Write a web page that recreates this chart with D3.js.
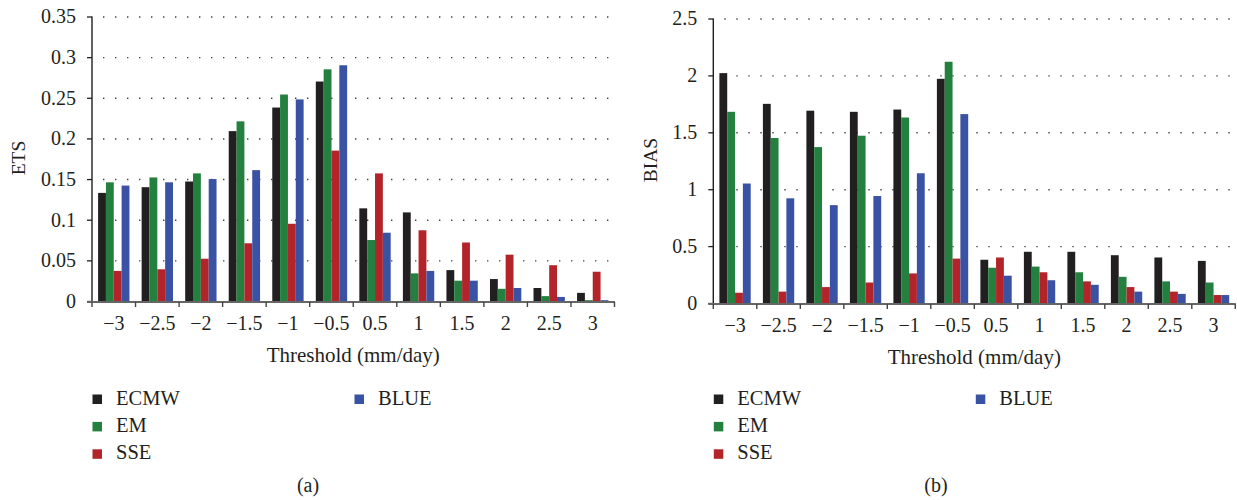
<!DOCTYPE html>
<html>
<head>
<meta charset="utf-8">
<script src="https://cdn.jsdelivr.net/npm/d3@7"></script>
<style>
  html, body { margin: 0; padding: 0; background: #fff; }
  svg { display: block; }
  text { font-family: "Liberation Serif", "DejaVu Serif", serif; fill: #231f20; }
</style>
</head>
<body>
<svg id="chart" width="1237" height="500"></svg>
<script>
// Precipitation thresholds (mm/day)
const thresholds = ["−3", "−2.5", "−2", "−1.5", "−1", "−0.5", "0.5", "1", "1.5", "2", "2.5", "3"];
const seriesNames = ["ECMW", "EM", "SSE", "BLUE"];
const seriesColors = ["#221f20", "#23803e", "#b3242a", "#3a52a3"];

// Equitable threat score per threshold
const etsECMW = [0.133, 0.140, 0.147, 0.209, 0.238, 0.270, 0.114, 0.109, 0.038, 0.027, 0.016, 0.010];
const etsEM   = [0.146, 0.152, 0.157, 0.221, 0.254, 0.285, 0.075, 0.034, 0.025, 0.015, 0.006, 0.001];
const etsSSE  = [0.037, 0.039, 0.052, 0.071, 0.095, 0.185, 0.157, 0.087, 0.072, 0.057, 0.044, 0.036];
const etsBLUE = [0.142, 0.146, 0.150, 0.161, 0.248, 0.290, 0.084, 0.037, 0.025, 0.016, 0.005, 0.001];

// Frequency bias per threshold
const biasECMW = [2.02, 1.75, 1.69, 1.68, 1.70, 1.97, 0.38, 0.45, 0.45, 0.42, 0.40, 0.37];
const biasEM   = [1.68, 1.45, 1.37, 1.47, 1.63, 2.12, 0.31, 0.32, 0.27, 0.23, 0.19, 0.18];
const biasSSE  = [0.09, 0.10, 0.14, 0.18, 0.26, 0.39, 0.40, 0.27, 0.19, 0.14, 0.10, 0.07];
const biasBLUE = [1.05, 0.92, 0.86, 0.94, 1.14, 1.66, 0.24, 0.20, 0.16, 0.10, 0.08, 0.07];

const etsTicks  = [0, 0.05, 0.1, 0.15, 0.2, 0.25, 0.3, 0.35];
const biasTicks = [0, 0.5, 1, 1.5, 2, 2.5];

const svg = d3.select("#chart");

function panel(opts) {
  const { x0, x1, yTop, yZero, yMax, ticks, series, yTitle, titleX, titleY, caption, captionX } = opts;
  const g = svg.append("g");

  const x = d3.scaleBand().domain(thresholds).range([x0, x1]).paddingInner(0.28).paddingOuter(0.14);
  const xs = d3.scaleBand().domain(seriesNames).range([0, x.bandwidth()]).padding(0);
  const y = d3.scaleLinear().domain([0, yMax]).range([yZero, yTop]);

  // dotted gridlines
  g.append("g").selectAll("line")
    .data(ticks.filter(t => t > 0))
    .join("line")
    .attr("x1", x0 + 11).attr("x2", x1)
    .attr("y1", d => y(d) + 0.5).attr("y2", d => y(d) + 0.5)
    .attr("stroke", "#444")
    .attr("stroke-width", 1.4)
    .attr("stroke-dasharray", "1.4 10.6");

  // bars
  const groups = g.append("g").selectAll("g")
    .data(thresholds.map((t, i) => ({ t, vals: series.map((s, k) => ({ name: seriesNames[k], v: s[i], c: seriesColors[k] })) })))
    .join("g")
    .attr("transform", d => `translate(${x(d.t)},0)`);
  groups.selectAll("rect")
    .data(d => d.vals)
    .join("rect")
    .attr("x", d => xs(d.name))
    .attr("width", xs.bandwidth())
    .attr("y", d => y(d.v))
    .attr("height", d => y(0) - y(d.v))
    .attr("fill", d => d.c);

  // y axis
  const yAxis = d3.axisLeft(y).tickValues(ticks).tickSize(5).tickPadding(11)
    .tickFormat(d => String(+d.toFixed(2)));
  const ya = g.append("g").attr("transform", `translate(${x0},0)`).call(yAxis);
  ya.select(".domain").attr("d", `M0,${yTop}V${yZero}`).attr("stroke", "#231f20").attr("stroke-width", 1.4);
  ya.selectAll(".tick line").attr("stroke", "#231f20").attr("stroke-width", 1.3);
  ya.selectAll(".tick text").style("font-family", "Liberation Serif").style("font-size", "20px").attr("fill", "#231f20");

  // x axis: tick marks at band boundaries, labels centred in bands
  const step = x.step();
  const bounds = d3.range(thresholds.length + 1).map(i => x0 + i * step);
  const xa = g.append("g");
  xa.append("line")
    .attr("x1", x0 - 5).attr("x2", x1 + 0.5)
    .attr("y1", yZero + 1).attr("y2", yZero + 1)
    .attr("stroke", "#666").attr("stroke-width", 2);
  xa.selectAll("line.tk").data(bounds).join("line").attr("class", "tk")
    .attr("x1", d => d).attr("x2", d => d)
    .attr("y1", yZero + 1).attr("y2", yZero + 6)
    .attr("stroke", "#444").attr("stroke-width", 1.4);
  xa.selectAll("text").data(thresholds).join("text")
    .attr("x", d => x(d) + x.bandwidth() / 2)
    .attr("y", yZero + 29)
    .attr("text-anchor", "middle")
    .style("font-size", "20px")
    .text(d => d);

  // axis titles
  g.append("text")
    .attr("x", (x0 + x1) / 2).attr("y", yZero + 61)
    .attr("text-anchor", "middle").style("font-size", "21px")
    .text("Threshold (mm/day)");
  g.append("text")
    .attr("transform", `translate(${titleX},${titleY}) rotate(-90)`)
    .attr("text-anchor", "middle").attr("dy", "0.35em").style("font-size", "19.5px")
    .text(yTitle);

  // legend
  const legendPos = [[0, 0], [0, 1], [0, 2], [1, 0]];
  const lg = g.append("g").selectAll("g")
    .data(seriesNames)
    .join("g")
    .attr("transform", (d, i) => `translate(${x0 + 0.5 + legendPos[i][0] * 262},${394.5 + legendPos[i][1] * 27.4})`);
  lg.append("rect").attr("width", 9.5).attr("height", 9.5).attr("fill", (d, i) => seriesColors[i]);
  lg.append("text").attr("x", 23.5).attr("y", 10).style("font-size", "20.5px").text(d => d);

  // panel caption
  g.append("text")
    .attr("x", captionX).attr("y", 492)
    .attr("text-anchor", "middle").style("font-size", "20px")
    .text(caption);
}

panel({ x0: 92, x1: 614.5, yTop: 16.5, yZero: 301, yMax: 0.35, ticks: etsTicks,
        series: [etsECMW, etsEM, etsSSE, etsBLUE], yTitle: "ETS", titleX: 18.5, titleY: 158,
        caption: "(a)", captionX: 308 });
panel({ x0: 713.3, x1: 1235.3, yTop: 18.5, yZero: 303, yMax: 2.5, ticks: biasTicks,
        series: [biasECMW, biasEM, biasSSE, biasBLUE], yTitle: "BIAS", titleX: 650, titleY: 160,
        caption: "(b)", captionX: 936 });
</script>
</body>
</html>
